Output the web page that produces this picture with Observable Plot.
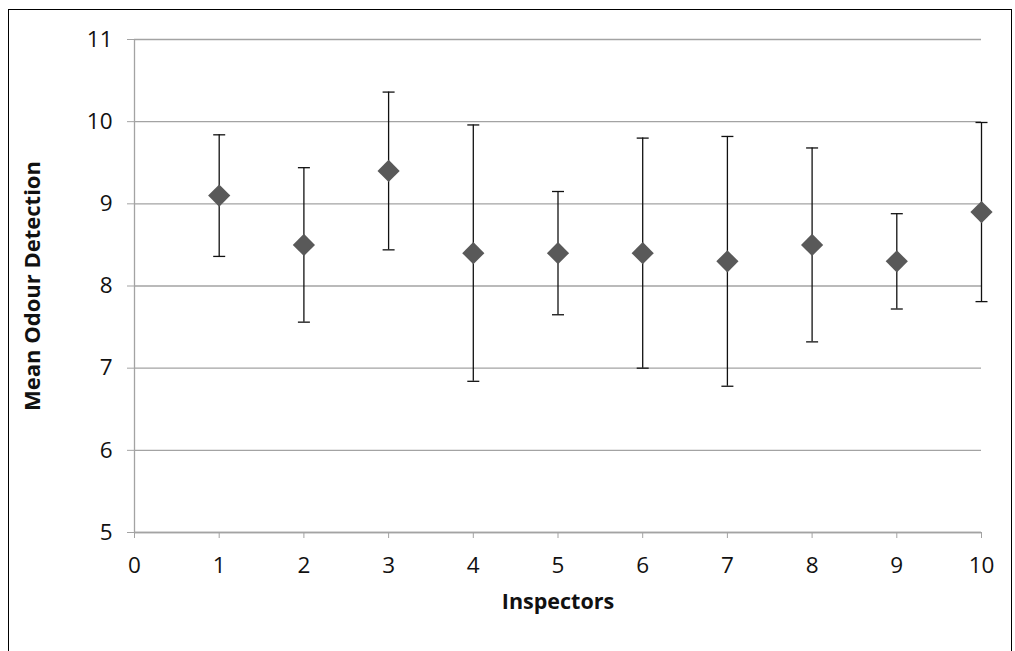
<!DOCTYPE html>
<html>
<head>
<meta charset="utf-8">
<script src="https://cdn.jsdelivr.net/npm/d3@7"></script>
<script src="https://cdn.jsdelivr.net/npm/@observablehq/plot@0.6"></script>
<style>
  html, body { margin: 0; padding: 0; background: #fff; }
  #wrap { position: relative; width: 1015px; height: 651px; overflow: hidden; }
  #border { position: absolute; left: 8px; top: 9px; width: 1004px; height: 700px; border: 1.5px solid #000; box-sizing: border-box; }
  #chart { position: absolute; left: 0; top: 0; }
</style>
</head>
<body>
<div id="wrap"><div id="border"></div><div id="chart"></div></div>
<script>
const inspectors = [1, 2, 3, 4, 5, 6, 7, 8, 9, 10];
const means = [9.1, 8.5, 9.4, 8.4, 8.4, 8.4, 8.3, 8.5, 8.3, 8.9];
const errors = [0.74, 0.94, 0.96, 1.56, 0.75, 1.4, 1.52, 1.18, 0.58, 1.09];
const xTicks = [0, 1, 2, 3, 4, 5, 6, 7, 8, 9, 10];
const yTicks = [5, 6, 7, 8, 9, 10, 11];

const data = inspectors.map((x, i) => ({x, mean: means[i], lo: means[i] - errors[i], hi: means[i] + errors[i]}));

const capSymbol = { draw(ctx) { ctx.moveTo(-6, 0); ctx.lineTo(6, 0); } };
const gridColor = "#a3a3a3";
const font = "'Open Sans', sans-serif";

const chart = Plot.plot({
  width: 1015,
  height: 651,
  marginLeft: 134,
  marginRight: 34,
  marginTop: 39,
  marginBottom: 119,
  style: { fontFamily: font, fontSize: "22.5px", background: "transparent", color: "#111" },
  x: { domain: [0, 10] },
  y: { domain: [5, 11] },
  marks: [
    Plot.gridY(yTicks, { stroke: gridColor, strokeOpacity: 1, strokeWidth: 1.3 }),
    Plot.axisY({ ticks: yTicks, tickFormat: "d", tickSize: 7, tickPadding: 15, stroke: gridColor, fill: "#111", fontSize: 22.5, label: null }),
    Plot.axisX({ ticks: xTicks, tickFormat: "d", tickSize: 6, tickPadding: 19, stroke: gridColor, fill: "#111", fontSize: 22.5, label: null }),
    Plot.ruleX([0], { stroke: gridColor, strokeWidth: 1.3 }),
    Plot.ruleY([5], { stroke: gridColor, strokeWidth: 1.3 }),
    Plot.ruleX(data, { x: "x", y1: "lo", y2: "hi", stroke: "#111", strokeWidth: 1.3 }),
    Plot.dot(data, { x: "x", y: "hi", symbol: capSymbol, stroke: "#111", strokeWidth: 1.3, fill: "none", r: 6 }),
    Plot.dot(data, { x: "x", y: "lo", symbol: capSymbol, stroke: "#111", strokeWidth: 1.3, fill: "none", r: 6 }),
    Plot.dot(data, { x: "x", y: "mean", symbol: "diamond2", fill: "#595959", stroke: "none", r: 10 }),
    Plot.text(["Inspectors"], { frameAnchor: "bottom", dy: 76, fontWeight: "bold", fontSize: 21.5, fill: "#111" }),
    Plot.text(["Mean Odour Detection"], { frameAnchor: "left", textAnchor: "middle", dx: -102, rotate: -90, fontWeight: "bold", fontSize: 22, fill: "#111" })
  ]
});
document.getElementById("chart").appendChild(chart);
</script>
</body>
</html>
